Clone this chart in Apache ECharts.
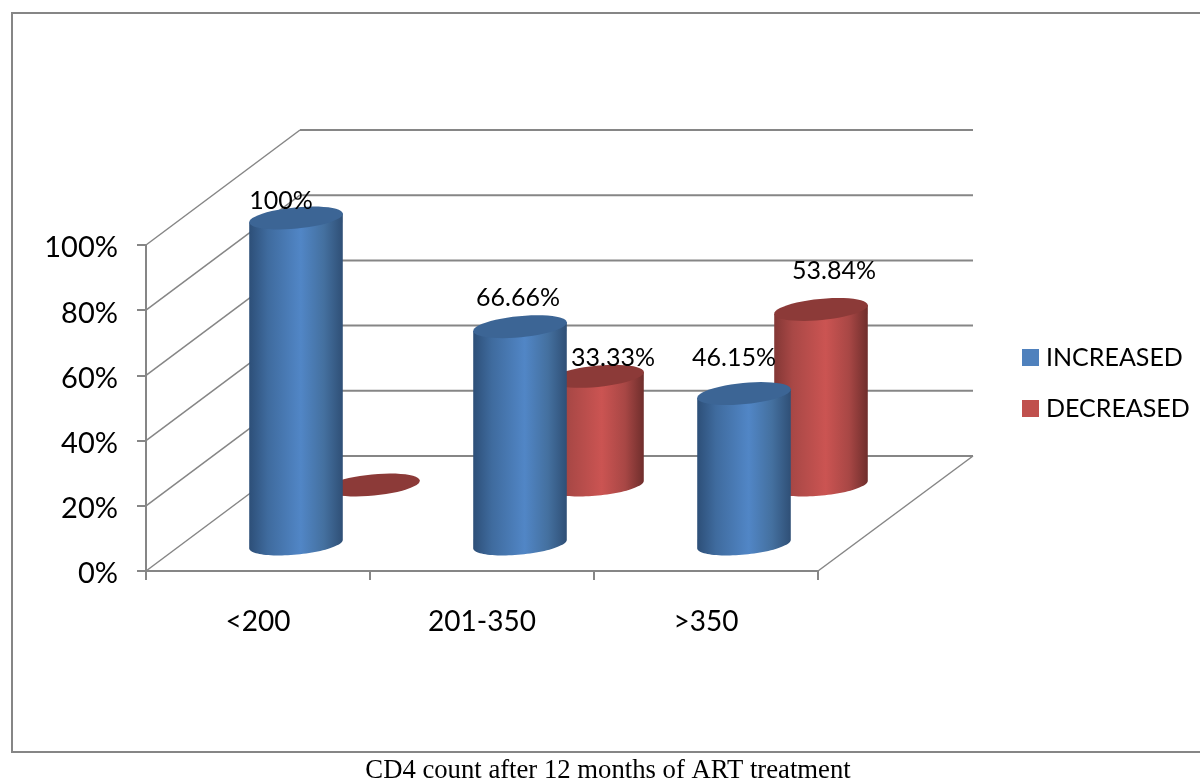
<!DOCTYPE html>
<html>
<head>
<meta charset="utf-8">
<style>html,body{margin:0;padding:0;background:#fff}#c{width:1200px;height:780px}</style>
<script src="https://cdn.jsdelivr.net/npm/echarts@6/dist/echarts.min.js"></script>
</head>
<body>
<div id="c"></div>
<script>
const categories = ['<200', '201-350', '>350'];
const increased = [100, 66.66, 46.15];
const decreased = [0, 33.33, 53.84];
const yTicks = [0, 20, 40, 60, 80, 100];
const seriesNames = ['INCREASED', 'DECREASED'];
const caption = 'CD4 count after 12 months of ART treatment';

// Styling / projection constants
const WALL = '#868686';
const FONT = 'Lato';
const DEPTH = { x: 154, y: 115 };
const RX = 47, RY = 10.6, TILT = -5.5 * Math.PI / 180;
const blueStyle = {
  top: '#3C6595', legend: '#4F81BD', shift: [38, 27],
  stops: [[0, '#2D4F78'], [0.2, '#3F6B9E'], [0.55, '#5186C6'], [0.8, '#44709F'], [1, '#2F4F76']]
};
const redStyle = {
  top: '#8C3A38', legend: '#C0504D', shift: [115, 86],
  stops: [[0, '#833735'], [0.2, '#A94846'], [0.55, '#CB5452'], [0.8, '#A84745'], [1, '#6F2E2C']]
};
const blueNudge = [[-15, -17], [-2, -29], [-10, -36]];
const redNudge = [[0, 0], [16, -18], [13, -39]];

function ellipsePoint(cx, cy, t) {
  const a = RX * Math.cos(t), b = RY * Math.sin(t);
  return [cx + a * Math.cos(TILT) - b * Math.sin(TILT), cy + a * Math.sin(TILT) + b * Math.cos(TILT)];
}
function ellipsePoints(cx, cy, from, to) {
  const pts = [];
  for (let i = 0; i <= 48; i++) pts.push(ellipsePoint(cx, cy, from + (to - from) * i / 48));
  return pts;
}

function cylinderRenderer(style, nudge) {
  return function (params, api) {
    const v = api.value(1);
    const i = api.value(0);
    const top = api.coord([i, v]);
    const base = api.coord([i, 0]);
    const cx = top[0] + style.shift[0];
    const yTop = top[1] - style.shift[1];
    const yBase = base[1] - style.shift[1];
    const children = [];
    if (v > 0) {
      const pts = ellipsePoints(cx, yBase, 0, Math.PI);
      const body = [ellipsePoint(cx, yTop, 0)].concat(pts, [ellipsePoint(cx, yTop, Math.PI)]);
      children.push({
        type: 'polygon',
        shape: { points: body },
        style: {
          fill: new echarts.graphic.LinearGradient(0, 0, 1, 0,
            style.stops.map(s => ({ offset: s[0], color: s[1] })))
        }
      });
    }
    children.push({
      type: 'polygon',
      shape: { points: ellipsePoints(cx, yTop, 0, Math.PI * 2) },
      style: { fill: style.top }
    });
    if (v > 0) {
      children.push({
        type: 'text',
        z2: 50,
        style: {
          text: v + '%',
          x: cx + nudge[i][0],
          y: yTop + nudge[i][1],
          align: 'center',
          verticalAlign: 'middle',
          fill: '#000',
          font: '25px ' + FONT
        }
      });
    }
    return { type: 'group', children };
  };
}

function wallRenderer(params, api) {
  const cs = params.coordSys;
  const y = api.coord([0, api.value(1)])[1];
  const x0 = cs.x;
  const xb = x0 + DEPTH.x;
  const xe = xb + cs.width + 1;
  const children = [
    { type: 'polyline', shape: { points: [[x0, y], [xb, y - DEPTH.y]] }, style: { stroke: WALL, lineWidth: 1.5, fill: null } },
    { type: 'line', shape: { x1: xb, y1: y - DEPTH.y, x2: xe, y2: y - DEPTH.y }, style: { stroke: WALL, lineWidth: 2 } }
  ];
  if (api.value(1) === 0) {
    children.push({ type: 'line', shape: { x1: x0 + cs.width, y1: y, x2: xe, y2: y - DEPTH.y }, style: { stroke: WALL, lineWidth: 1.5 } });
  }
  return { type: 'group', children };
}

const chart = echarts.init(document.getElementById('c'), null, { renderer: 'canvas' });
chart.setOption({
  animation: false,
  backgroundColor: '#fff',
  title: {
    text: caption,
    left: 603,
    textAlign: 'center',
    top: 752,
    textStyle: { fontFamily: 'Liberation Serif', fontSize: 26.7, fontWeight: 'normal', color: '#000' }
  },
  legend: {
    orient: 'vertical',
    left: 1017,
    top: 340,
    itemWidth: 17,
    itemHeight: 17,
    itemGap: 26,
    textStyle: { fontFamily: FONT, fontSize: 25, color: '#000', padding: [0, 0, 0, 2] },
    data: [
      { name: seriesNames[0], icon: 'rect', itemStyle: { color: blueStyle.legend } },
      { name: seriesNames[1], icon: 'rect', itemStyle: { color: redStyle.legend } }
    ]
  },
  grid: { left: 146, top: 245, width: 672, height: 326, containLabel: false },
  xAxis: {
    type: 'category',
    data: categories,
    boundaryGap: true,
    axisLine: { lineStyle: { color: WALL, width: 2 } },
    axisTick: { show: true, length: 9, alignWithLabel: false, lineStyle: { color: WALL, width: 2 } },
    axisLabel: { color: '#000', fontFamily: FONT, fontSize: 28, margin: 37 },
    splitLine: { show: false }
  },
  yAxis: {
    type: 'value',
    min: 0,
    max: 100,
    interval: 20,
    axisLine: { show: true, lineStyle: { color: WALL, width: 2 } },
    axisTick: { show: true, length: 9, lineStyle: { color: WALL, width: 2 } },
    axisLabel: { color: '#000', fontFamily: FONT, fontSize: 29, margin: 28, formatter: '{value}%', verticalAlign: 'top', lineHeight: 6 },
    splitLine: { show: false }
  },
  graphic: [{
    type: 'rect',
    silent: true,
    z: -1,
    shape: { x: 12, y: 13, width: 1210, height: 739 },
    style: { fill: null, stroke: '#868686', lineWidth: 2 }
  }],
  series: [
    {
      type: 'custom', name: 'walls', z: 1, silent: true,
      renderItem: wallRenderer,
      data: yTicks.map(t => [0, t]),
      encode: { x: 0, y: 1 }
    },
    {
      type: 'custom', name: seriesNames[1], z: 3, silent: true,
      renderItem: cylinderRenderer(redStyle, redNudge),
      itemStyle: { color: redStyle.legend },
      data: decreased.map((v, i) => [i, v]),
      encode: { x: 0, y: 1 }
    },
    {
      type: 'custom', name: seriesNames[0], z: 4, silent: true,
      renderItem: cylinderRenderer(blueStyle, blueNudge),
      itemStyle: { color: blueStyle.legend },
      data: increased.map((v, i) => [i, v]),
      encode: { x: 0, y: 1 }
    }
  ]
});
</script>
</body>
</html>
